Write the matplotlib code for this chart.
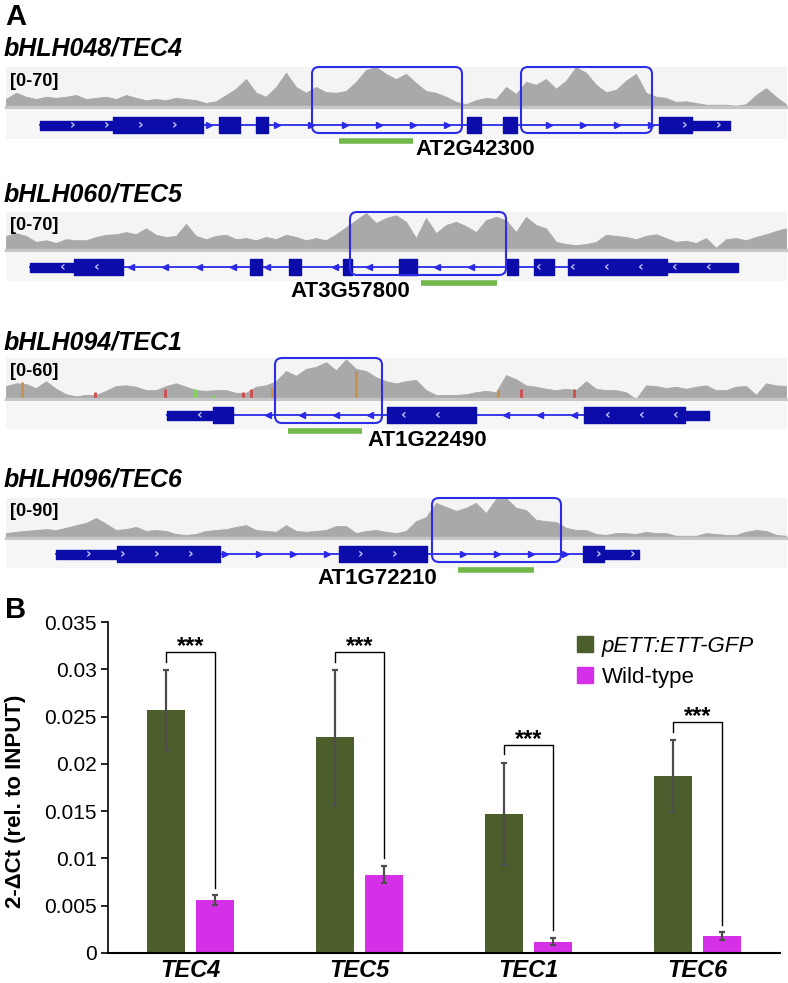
import matplotlib.pyplot as plt
import numpy as np
from matplotlib.patches import FancyBboxPatch, Patch

plt.rcParams["font.family"] = ["Liberation Sans", "DejaVu Sans"]

W, H = 788, 983

# ---------------- panel A: browser tracks ----------------
TRACK_NAMES = ["bHLH048/TEC4", "bHLH060/TEC5", "bHLH094/TEC1", "bHLH096/TEC6"]
TRACK_SCALES = [70, 70, 60, 90]
GENE_IDS = ["AT2G42300", "AT3G57800", "AT1G22490", "AT1G72210"]
STRANDS = ["+", "-", "-", "+"]

# read coverage, one value every 10 positions starting at 6
COV_START, COV_STEP = 6, 10
TEC4_COV = [14, 25, 18, 14, 18, 16, 18, 21, 14, 16, 18, 14, 21, 16, 12, 14, 12, 16, 14, 12,
            7, 10, 21, 32, 49, 25, 18, 35, 60, 35, 25, 35, 26, 25, 28, 44, 65, 70, 58, 49,
            58, 42, 28, 25, 18, 9, 5, 12, 16, 14, 35, 23, 44, 39, 49, 32, 46, 70, 60, 39,
            26, 30, 46, 58, 25, 18, 16, 9, 10, 7, 4, 4, 4, 2, 5, 21, 33, 18, 5]
TEC5_COV = [26, 31, 26, 15, 18, 13, 20, 18, 18, 24, 28, 29, 33, 29, 40, 28, 24, 26, 48, 26,
            20, 26, 28, 20, 22, 18, 24, 20, 28, 24, 18, 22, 18, 29, 42, 55, 68, 50, 59, 64,
            52, 22, 59, 31, 46, 52, 44, 33, 55, 61, 55, 33, 61, 46, 40, 15, 11, 9, 11, 15,
            28, 26, 24, 20, 26, 29, 22, 15, 17, 13, 22, 4, 20, 22, 18, 24, 29, 35, 40]
TEC1_COV = [19, 23, 22, 16, 26, 15, 7, 4, 6, 6, 12, 19, 20, 18, 13, 13, 19, 23, 18, 13,
            12, 13, 13, 9, 9, 18, 20, 26, 41, 34, 44, 47, 54, 42, 58, 44, 41, 32, 26, 23,
            26, 28, 13, 6, 6, 6, 7, 10, 12, 10, 35, 29, 20, 18, 15, 13, 15, 13, 26, 15,
            13, 13, 10, 0, 20, 19, 16, 18, 15, 18, 20, 13, 13, 18, 19, 6, 23, 20, 19]
TEC6_COV = [11, 14, 16, 18, 20, 18, 23, 29, 34, 45, 32, 18, 20, 25, 16, 18, 16, 9, 7, 9,
            16, 18, 20, 25, 29, 18, 16, 14, 29, 16, 14, 16, 18, 27, 27, 11, 16, 18, 14, 11,
            16, 38, 47, 79, 70, 61, 68, 79, 56, 88, 90, 68, 63, 41, 38, 36, 23, 18, 18, 9,
            7, 11, 11, 9, 14, 11, 11, 5, 5, 5, 11, 9, 7, 7, 14, 18, 16, 7, 5]
COVERAGES = [TEC4_COV, TEC5_COV, TEC1_COV, TEC6_COV]

# exon models (start, end, kind)
TEC4_EXONS = [(40, 113, "utr"), (113, 203, "cds"), (219, 240, "cds"), (256, 268, "cds"),
              (467, 481, "cds"), (503, 517, "cds"), (659, 692, "cds"), (692, 730, "utr")]
TEC5_EXONS = [(30, 74, "utr"), (74, 123, "cds"), (250, 262, "cds"), (289, 301, "cds"),
              (343, 352, "cds"), (399, 417, "cds"), (507, 518, "cds"), (534, 554, "cds"),
              (568, 667, "cds"), (667, 738, "utr")]
TEC1_EXONS = [(167, 213, "utr"), (213, 233, "cds"), (387, 476, "cds"), (584, 685, "cds"),
              (685, 709, "utr")]
TEC6_EXONS = [(56, 117, "utr"), (117, 220, "cds"), (339, 427, "cds"), (583, 604, "cds"),
              (604, 639, "utr")]
EXONS = [TEC4_EXONS, TEC5_EXONS, TEC1_EXONS, TEC6_EXONS]

BOUND_REGIONS = [[(312, 462), (521, 652)], [(350, 506)], [(275, 382)], [(432, 561)]]
AMPLICONS = [(339, 413), (421, 497), (288, 362), (458, 534)]

# mismatch bars in the TEC1 track
TEC1_MM_POS = [22, 95, 165, 195, 213, 243, 251, 272, 356, 447, 498, 521, 574]
TEC1_MM_COV = [25, 10, 15, 15, 6, 10, 15, 18, 41, 3, 13, 15, 15]
TEC1_MM_COLORS = ["#c8904a", "#d04a4a", "#d04a4a", "#7ed957", "#7ed957", "#d04a4a",
                  "#d04a4a", "#c8904a", "#c8904a", "#7ed957", "#c8904a", "#d04a4a", "#d04a4a"]

# ---------------- panel B: ChIP-qPCR ----------------
GENES = ["TEC4", "TEC5", "TEC1", "TEC6"]
ETT_GFP = [0.0257, 0.0228, 0.0147, 0.0187]
ETT_GFP_ERR = [0.0042, 0.0071, 0.0054, 0.0038]
WILD_TYPE = [0.0056, 0.0083, 0.0012, 0.0018]
WILD_TYPE_ERR = [0.0005, 0.0009, 0.0004, 0.0004]
SERIES = ["pETT:ETT-GFP", "Wild-type"]

GREEN = "#4b5e2b"
PINK = "#d530e8"
GENE_BLUE = "#0c0caa"
LINE_BLUE = "#2a2ae8"

# layout of each track in pixels
TRACK_PX = [
    dict(title=56, cov_top=67, base=107, line=125, label_x=475),
    dict(title=202, cov_top=212, base=250, line=267, label_x=350),
    dict(title=350, cov_top=358, base=399, line=415, label_x=427),
    dict(title=487, cov_top=498, base=538, line=554, label_x=377),
]
X0, X1 = 6, 787


def px_axes(fig, left, top, width, height):
    return fig.add_axes([left / W, 1 - (top + height) / H, width / W, height / H])


def ftext(fig, x, y, s, **kw):
    return fig.text(x / W, 1 - y / H, s, **kw)


def draw_gene(ax, exons, strand):
    start = min(e[0] for e in exons)
    end = max(e[1] for e in exons)
    ax.plot([start, end], [0, 0], color=LINE_BLUE, lw=1.3, zorder=2)
    for s, e, kind in exons:
        half = 8 if kind == "cds" else 4.5
        ax.broken_barh([(s, e - s)], (-half, 2 * half), color=GENE_BLUE, zorder=3)
    marker = ">" if strand == "+" else "<"
    chevron = "\u203a" if strand == "+" else "\u2039"
    for m in np.arange(start + 33, end - 3, 34):
        inside = [(s, e) for s, e, _ in exons if s - 3 <= m <= e + 3]
        if not inside:
            ax.plot(m, 0, marker=marker, ms=4.5, color=LINE_BLUE, mec=LINE_BLUE, zorder=4)
        else:
            s, e = inside[0]
            if s + 4 < m < e - 4:
                ax.text(m, 0, chevron, color="#c4c4ff", fontsize=10, fontweight="bold",
                        ha="center", va="center", zorder=5, family="DejaVu Sans")


def draw_tracks(fig):
    ftext(fig, 5, 17, "A", fontsize=21, fontweight="bold", va="center")
    for i, lay in enumerate(TRACK_PX):
        cov = COVERAGES[i]
        x = COV_START + COV_STEP * np.arange(len(cov))

        ax_c = px_axes(fig, X0, lay["cov_top"], X1 - X0, lay["base"] - lay["cov_top"])
        ax_c.set_facecolor("#f4f4f4")
        ax_c.fill_between(x, cov, color="#a9a9a9", lw=0.6)
        if i == 2:
            ax_c.vlines(TEC1_MM_POS, 0, TEC1_MM_COV, colors=TEC1_MM_COLORS, lw=2)
        ax_c.set_xlim(X0, X1)
        ax_c.set_ylim(0, TRACK_SCALES[i])
        for side in ("top", "left", "right"):
            ax_c.spines[side].set_visible(False)
        ax_c.spines["bottom"].set_color("#c6c6c6")
        ax_c.spines["bottom"].set_linewidth(2.5)
        ax_c.set_xticks([])
        ax_c.set_yticks([])

        ax_g = px_axes(fig, X0, lay["line"] - 14, X1 - X0, 28)
        ax_g.set_xlim(X0, X1)
        ax_g.set_ylim(14, -14)
        ax_g.axis("off")
        ax_g.add_patch(plt.Rectangle((X0, -14), X1 - X0, 28, color="#f6f6f6", zorder=0))
        draw_gene(ax_g, EXONS[i], STRANDS[i])

        top = lay["cov_top"] - lay["line"]
        for s, e in BOUND_REGIONS[i]:
            box = FancyBboxPatch((s, top), e - s, 8 - top,
                                 boxstyle="round,pad=0,rounding_size=7",
                                 fill=False, ec="#2d2de6", lw=1.5, clip_on=False, zorder=6)
            ax_g.add_patch(box)
        a0, a1 = AMPLICONS[i]
        ax_g.plot([a0, a1], [16, 16], color="#72b84a", lw=4, solid_capstyle="butt",
                  clip_on=False)
        ax_g.text(lay["label_x"], 25, GENE_IDS[i], ha="center", va="center",
                  fontsize=16, fontweight="bold", clip_on=False)

        ftext(fig, 4, lay["title"], TRACK_NAMES[i], fontsize=18, fontweight="bold",
              fontstyle="italic", va="baseline")
        ftext(fig, 10, lay["cov_top"] + 14, f"[0-{TRACK_SCALES[i]}]", fontsize=13,
              fontweight="bold", va="center")


def draw_bars(fig):
    ftext(fig, 5, 610, "B", fontsize=21, fontweight="bold", va="center")
    ax = px_axes(fig, 108, 622, 672, 331)
    x = np.arange(len(GENES))
    off, width = 0.145, 0.225
    err_kw = dict(ecolor="#4d4d4d", elinewidth=1.6, capsize=2.2, capthick=1.6)
    ax.bar(x - off, ETT_GFP, width, yerr=ETT_GFP_ERR, color=GREEN, error_kw=err_kw)
    ax.bar(x + off, WILD_TYPE, width, yerr=WILD_TYPE_ERR, color=PINK, error_kw=err_kw)

    for i in range(len(GENES)):
        left_low = ETT_GFP[i] + ETT_GFP_ERR[i] + 0.0009
        top = left_low + 0.001
        right_low = WILD_TYPE[i] + WILD_TYPE_ERR[i] + 0.0008
        ax.plot([i - off, i - off, i + off, i + off], [left_low, top, top, right_low],
                color="black", lw=1)
        ax.text(i, top - 0.0006, "***", ha="center", va="bottom", fontsize=17,
                fontweight="bold")

    ax.set_xlim(-0.49, 3.49)
    ax.set_ylim(0, 0.035)
    yt = np.arange(0, 0.0351, 0.005)
    ax.set_yticks(yt)
    ax.set_yticklabels(["0", "0.005", "0.01", "0.015", "0.02", "0.025", "0.03", "0.035"],
                       fontsize=15)
    ax.set_xticks(x)
    ax.set_xticklabels(GENES, fontsize=17, fontweight="bold", fontstyle="italic")
    ax.tick_params(axis="x", length=0, pad=4)
    ax.tick_params(axis="y", length=5, width=1.2, pad=3)
    ax.spines["top"].set_visible(False)
    ax.spines["right"].set_visible(False)
    ax.spines["left"].set_linewidth(1.2)
    ax.spines["bottom"].set_linewidth(1.5)
    ax.set_ylabel("2-\u0394Ct (rel. to INPUT)", fontsize=16, fontweight="bold")
    ax.yaxis.set_label_coords((26 - 108) / 672, (953 - 801) / 331)

    handles = [Patch(color=GREEN), Patch(color=PINK)]
    leg = fig.legend(handles, SERIES, loc="upper left",
                     bbox_to_anchor=(577 / W, 1 - 636 / H), frameon=False, fontsize=16,
                     handlelength=0.7, handleheight=0.7, handletextpad=0.4,
                     labelspacing=0.45, borderpad=0, borderaxespad=0)
    leg.get_texts()[0].set_fontstyle("italic")


def main():
    fig = plt.figure(figsize=(W / 100, H / 100), dpi=100)
    draw_tracks(fig)
    draw_bars(fig)
    fig.savefig("out.png", dpi=100)


if __name__ == "__main__":
    main()
